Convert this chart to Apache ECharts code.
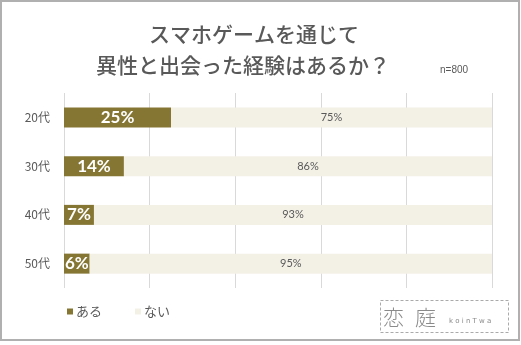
<!DOCTYPE html>
<html><head><meta charset="utf-8">
<script src="https://cdn.jsdelivr.net/npm/echarts@6/dist/echarts.min.js"></script>
<style>html,body{margin:0;padding:0;background:#fff}#c{width:521px;height:345px}</style>
</head><body><div id="c"></div>
<script>
var categories = ['20代', '30代', '40代', '50代'];
var yesValues = [25, 14, 7, 6];
var noValues = [75, 86, 93, 95];
var seriesNames = ['ある', 'ない'];
var xTicks = [0, 20, 40, 60, 80, 100];

var chart = echarts.init(document.getElementById('c'));
var jp = '"Noto Sans CJK JP", sans-serif';
chart.setOption({
  animation: false,
  backgroundColor: '#fff',
  grid: {left: 64, right: 29, top: 93, bottom: 57},
  xAxis: {
    type: 'value', min: xTicks[0], max: xTicks[xTicks.length - 1], interval: 20,
    axisLabel: {show: false}, axisLine: {show: false}, axisTick: {show: false},
    splitLine: {lineStyle: {color: '#d9d9d9', width: 1}}
  },
  yAxis: {
    type: 'category', data: categories, inverse: true,
    axisLine: {show: false}, axisTick: {show: false},
    axisLabel: {color: '#595959', fontSize: 12, fontFamily: jp, margin: 14}
  },
  legend: {
    left: 62, top: 300, icon: 'rect', itemWidth: 6, itemHeight: 6, itemGap: 33,
    textStyle: {color: '#595959', fontSize: 13, fontFamily: jp, padding: [0, 0, 0, -2]},
    data: seriesNames
  },
  series: [
    {
      name: seriesNames[0], type: 'bar', stack: 't', barWidth: 20, data: yesValues,
      itemStyle: {color: '#857634'},
      label: {show: true, position: 'inside', color: '#fff', fontSize: 17, fontWeight: 'bold',
        fontFamily: 'Lato, sans-serif', formatter: '{c}%'}
    },
    {
      name: seriesNames[1], type: 'bar', stack: 't', barWidth: 20, data: noValues,
      itemStyle: {color: '#f3f0e6'},
      label: {show: true, position: 'inside', color: '#595959', fontSize: 11,
        fontFamily: 'Lato, sans-serif', formatter: '{c}%'}
    }
  ],
  graphic: [
    {type: 'rect', shape: {x: 1, y: 1, width: 518, height: 339}, silent: true,
      style: {fill: 'none', stroke: '#b0b0b0', lineWidth: 2}},
    {type: 'text', x: 254, y: 34, silent: true,
      style: {text: 'スマホゲームを通じて', fill: '#595959', font: '500 21px ' + jp, textAlign: 'center', textVerticalAlign: 'middle'}},
    {type: 'text', x: 243, y: 65, silent: true,
      style: {text: '異性と出会った経験はあるか？', fill: '#595959', font: '500 21px ' + jp, textAlign: 'center', textVerticalAlign: 'middle'}},
    {type: 'text', x: 440, y: 70, silent: true,
      style: {text: 'n=800', fill: '#595959', font: '10px "Liberation Sans", sans-serif', textAlign: 'left', textVerticalAlign: 'middle'}},
    {type: 'rect', shape: {x: 380.5, y: 300.5, width: 128, height: 32}, silent: true,
      style: {fill: 'none', stroke: '#aaaaaa', lineWidth: 1, lineDash: [3, 2]}},
    {type: 'text', x: 383, y: 317, silent: true,
      style: {text: '恋', fill: '#8a8a8a', font: '300 21px ' + jp, textAlign: 'left', textVerticalAlign: 'middle'}},
    {type: 'text', x: 415, y: 317, silent: true,
      style: {text: '庭', fill: '#8a8a8a', font: '300 21px ' + jp, textAlign: 'left', textVerticalAlign: 'middle'}},
    {type: 'text', x: 449, y: 321, silent: true,
      style: {text: 'k o i n T w a', fill: '#8a8a8a', font: '7px "DejaVu Sans", sans-serif', textAlign: 'left', textVerticalAlign: 'middle'}}
  ]
});
</script></body></html>
